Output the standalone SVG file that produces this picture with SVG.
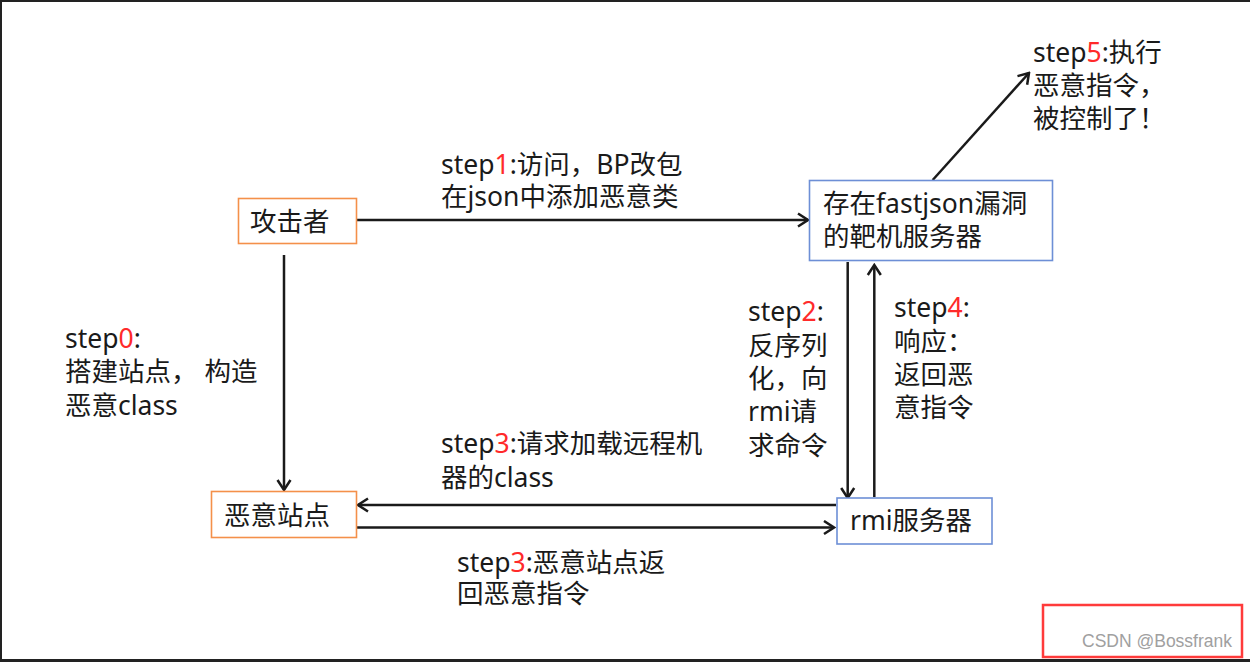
<svg xmlns="http://www.w3.org/2000/svg" width="1250" height="662" viewBox="0 0 1250 662">
<style>
text{font-family:"Noto Sans","Noto Sans CJK SC",sans-serif;font-size:26.5px;fill:#1a1a1a}
.r{fill:#ff2a2a}
.or{fill:#fff;stroke:#f4904a;stroke-width:1.6}
.bl{fill:#fff;stroke:#6d8fd6;stroke-width:1.6}
.ln{fill:none;stroke:#1a1a1a;stroke-width:2.5}
</style>
<defs>
<marker id="a" markerUnits="userSpaceOnUse" markerWidth="14" markerHeight="16" refX="12" refY="8" orient="auto" viewBox="0 0 14 16">
<path d="M2,1.5 L12,8 L2,14.5" fill="none" stroke="#1a1a1a" stroke-width="2.5"/>
</marker>
</defs>
<rect x="0" y="0" width="1250" height="662" fill="#fff"/>
<rect x="0" y="0" width="1250" height="2" fill="#222"/>
<rect x="0" y="0" width="2" height="662" fill="#222"/>
<rect x="0" y="659" width="1250" height="3" fill="#222"/>

<g id="connectors">
<line class="ln" x1="357" y1="220" x2="808" y2="220" marker-end="url(#a)"/>
<line class="ln" x1="932.7" y1="180" x2="1029" y2="73" marker-end="url(#a)"/>
<line class="ln" x1="284" y1="255" x2="284" y2="490" marker-end="url(#a)"/>
<line class="ln" x1="847.7" y1="262" x2="847.7" y2="498" marker-end="url(#a)"/>
<line class="ln" x1="874.3" y1="497" x2="874.3" y2="265" marker-end="url(#a)"/>
<line class="ln" x1="836" y1="505" x2="358" y2="505" marker-end="url(#a)"/>
<line class="ln" x1="357" y1="527.5" x2="834" y2="527.5" marker-end="url(#a)"/>
</g>

<g id="attacker">
<rect class="or" x="238.5" y="198.5" width="118" height="45"/>
<text x="250" y="231">攻击者</text>
</g>
<g id="target">
<rect class="bl" x="809.5" y="180.5" width="243" height="80"/>
<text x="823" y="213">存在fastjson漏洞</text>
<text x="823" y="246">的靶机服务器</text>
</g>
<g id="evilsite">
<rect class="or" x="211.5" y="491.5" width="145" height="46"/>
<text x="224" y="525">恶意站点</text>
</g>
<g id="rmi">
<rect class="bl" x="837" y="498" width="155" height="46"/>
<text x="850" y="530">rmi服务器</text>
</g>

<g id="labels">
<text x="441" y="174">step<tspan class="r">1</tspan>:访问，BP改包</text>
<text x="441" y="206">在json中添加恶意类</text>
<text x="1033" y="62">step<tspan class="r">5</tspan>:执行</text>
<text x="1033" y="95">恶意指令，</text>
<text x="1033" y="128">被控制了！</text>
<text x="65" y="348">step<tspan class="r">0</tspan>:</text>
<text x="65" y="381">搭建站点， 构造</text>
<text x="65" y="415">恶意class</text>
<text x="748" y="321">step<tspan class="r">2</tspan>:</text>
<text x="748" y="355">反序列</text>
<text x="748" y="388">化，向</text>
<text x="748" y="421">rmi请</text>
<text x="748" y="455">求命令</text>
<text x="894" y="317">step<tspan class="r">4</tspan>:</text>
<text x="894" y="351">响应：</text>
<text x="894" y="384">返回恶</text>
<text x="894" y="417">意指令</text>
<text x="441" y="453">step<tspan class="r">3</tspan>:请求加载远程机</text>
<text x="441" y="487">器的class</text>
<text x="457" y="572">step<tspan class="r">3</tspan>:恶意站点返</text>
<text x="457" y="603">回恶意指令</text>
</g>

<rect x="1043" y="605" width="199" height="52" fill="none" stroke="#ff3b3b" stroke-width="2.5"/>
<text x="1082" y="647" style="font-family:'Liberation Sans',Arial,sans-serif;font-size:17.5px;fill:#a0a0a0">CSDN @Bossfrank</text>
</svg>
